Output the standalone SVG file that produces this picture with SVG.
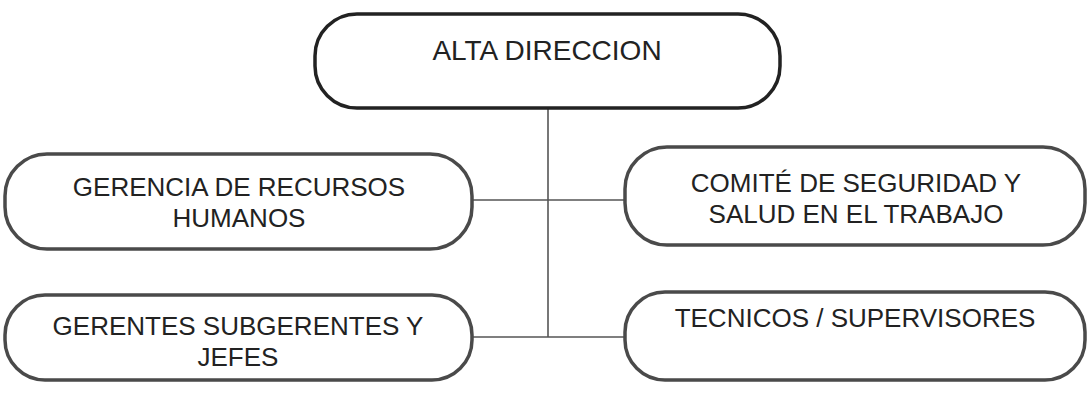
<svg xmlns="http://www.w3.org/2000/svg" width="1088" height="394" viewBox="0 0 1088 394">
<style>
.box{fill:#ffffff;stroke:#4a4a4a;stroke-width:3.5}
.top{stroke:#222222}
.t{font-family:"Liberation Sans",Arial,sans-serif;font-size:26px;fill:#222222;text-anchor:middle}
.c{stroke:#555555;stroke-width:1.6;fill:none}
</style>
<rect width="1088" height="394" fill="#ffffff"/>
<g id="connectors">
<line class="c" x1="548" y1="108" x2="548" y2="337"/>
<line class="c" x1="472" y1="200" x2="625" y2="200"/>
<line class="c" x1="472" y1="337" x2="625" y2="337"/>
</g>
<g id="alta-direccion">
<rect class="box top" x="315" y="14" width="465" height="94" rx="42" ry="42"/>
<text class="t" x="547" y="60" style="font-size:28px">ALTA DIRECCION</text>
</g>
<g id="gerencia-rrhh">
<rect class="box" x="5" y="154" width="467" height="95" rx="42" ry="42"/>
<text class="t" x="239" y="196">GERENCIA DE RECURSOS</text>
<text class="t" x="239" y="227">HUMANOS</text>
</g>
<g id="comite-sst">
<rect class="box" x="625" y="147" width="460" height="98" rx="42" ry="42"/>
<text class="t" x="856" y="192">COMITÉ DE SEGURIDAD Y</text>
<text class="t" x="856" y="223">SALUD EN EL TRABAJO</text>
</g>
<g id="gerentes-jefes">
<rect class="box" x="5" y="295" width="467" height="85" rx="40" ry="40"/>
<text class="t" x="238" y="335">GERENTES SUBGERENTES Y</text>
<text class="t" x="238" y="366">JEFES</text>
</g>
<g id="tecnicos-supervisores">
<rect class="box" x="625" y="292" width="460" height="88" rx="40" ry="40"/>
<text class="t" x="855" y="327">TECNICOS / SUPERVISORES</text>
</g>
</svg>
